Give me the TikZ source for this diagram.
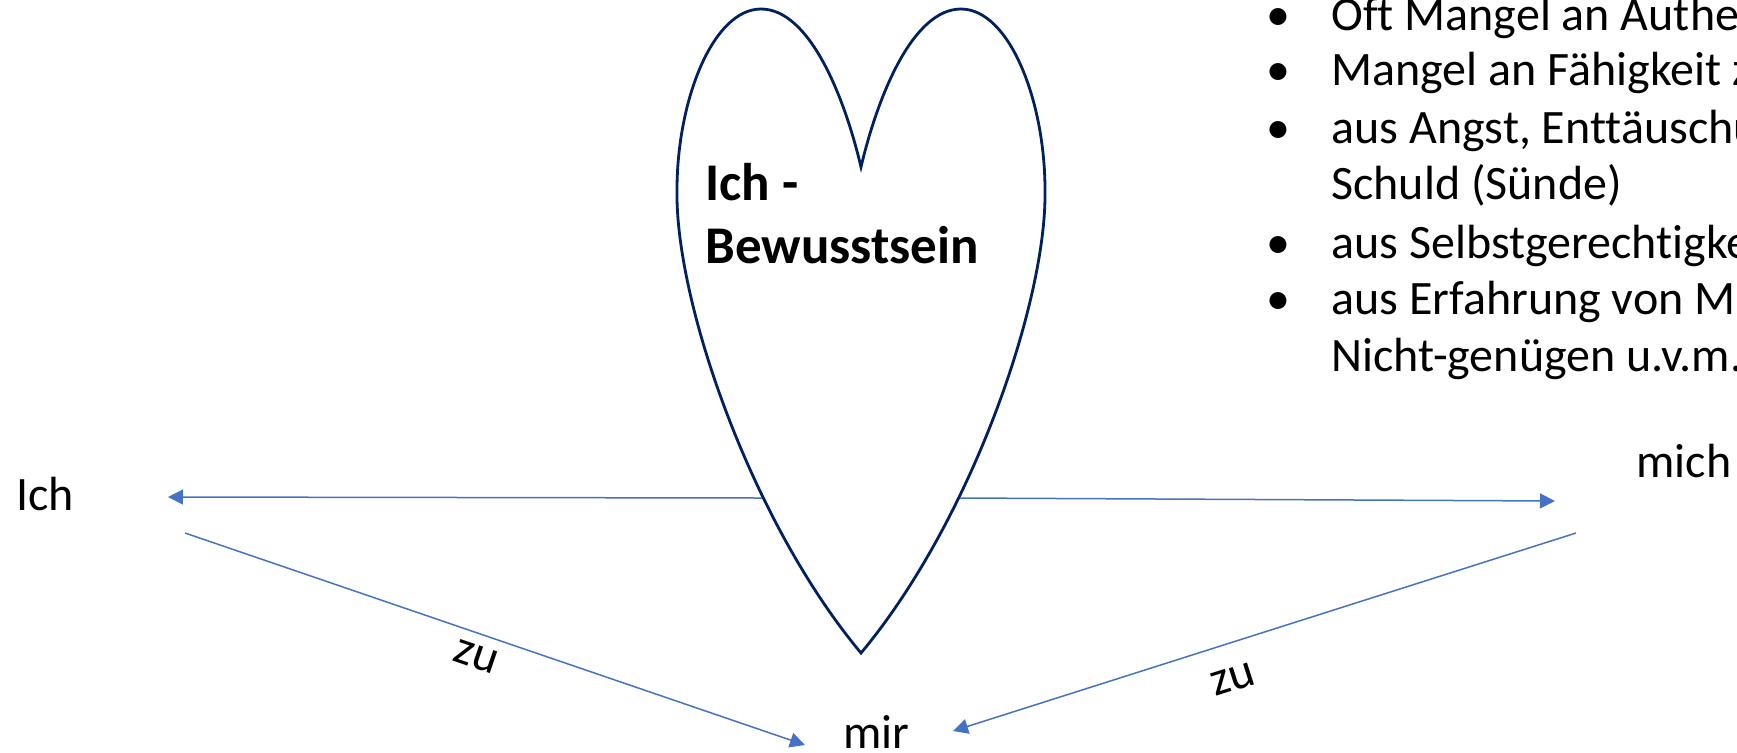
\documentclass[tikz,border=0pt]{standalone}
\usepackage{fontspec}
\setmainfont{Carlito}[Ligatures=NoCommon]
\usepackage{tikz}
\usetikzlibrary{arrows.meta, positioning}
\definecolor{heartnavy}{RGB}{0,32,96}
\definecolor{arrowblue}{RGB}{68,114,196}

\begin{document}
\begin{tikzpicture}[x=0.5pt, y=-0.5pt,
    wordlabel/.style={inner sep=0pt, text=black, font=\fontsize{24}{29}\selectfont},
    heartlabel/.style={inner sep=0pt, align=left, font=\bfseries\fontsize{26.5}{31.5}\selectfont},
    relarrow/.style={arrowblue, line width=0.75pt, -{Triangle[length=7.5pt, width=7.5pt]}}]
  \useasboundingbox (0,0) rectangle (1737,752);
  \clip (0,0) rectangle (1737,752);

  \draw[heartnavy, line width=1.4pt]
    (861,167) .. controls (844,95) and (809,9) .. (761,9)
    .. controls (713,9) and (677,100) .. (677,190)
    .. controls (675,300) and (750,520) .. (861,653)
    .. controls (972,520) and (1047,300) .. (1045,190)
    .. controls (1045,100) and (1009,9) .. (961,9)
    .. controls (913,9) and (878,95) .. cycle;
  \node[heartlabel, anchor=base west] (selbst) at (705,263) {Ich -\\Bewusstsein};

  \node[wordlabel, anchor=base west] (ich) at (16,510) {Ich};
  \node[wordlabel, anchor=base west] (mich) at (1636,477) {mich};
  \node[wordlabel, anchor=base west] (mir) at (843,748) {mir};

  \coordinate (hl) at (762,498);
  \coordinate (hr) at (960,498);
  \coordinate (ichtip) at (168,497);
  \coordinate (michtip) at (1555,501);
  \coordinate (ichfoot) at (185,533);
  \coordinate (michfoot) at (1576,533);
  \coordinate (mirleft) at (805,745);
  \coordinate (mirright) at (953,731);

  \draw[relarrow] (hl) -- (ichtip);
  \draw[relarrow] (hr) -- (michtip);
  \draw[relarrow] (ichfoot) -- (mirleft)
    node[wordlabel, sloped, pos=0.482, below=5.5pt] (zuleft) {zu};
  \draw[relarrow] (michfoot) -- (mirright)
    node[wordlabel, sloped, pos=0.568, below=11.6pt] (zuright) {zu};

  \foreach \y/\txt [count=\i] in {30/{Oft Mangel an Authe}, 85/{Mangel an Fähigkeit z},
      143/{aus Angst, Enttäuschu}, 199/{Schuld (Sünde)}, 258/{aus Selbstgerechtigke},
      314/{aus Erfahrung von M}, 371/{Nicht-genügen u.v.m.}}
    \node[wordlabel, anchor=base west] (line\i) at (1331,\y) {\txt};
  \foreach \y [count=\i] in {30,85,143,258,314}
    \node[wordlabel, anchor=base] (dot\i) at (1278,\y) {\textbullet};
\end{tikzpicture}
\end{document}
